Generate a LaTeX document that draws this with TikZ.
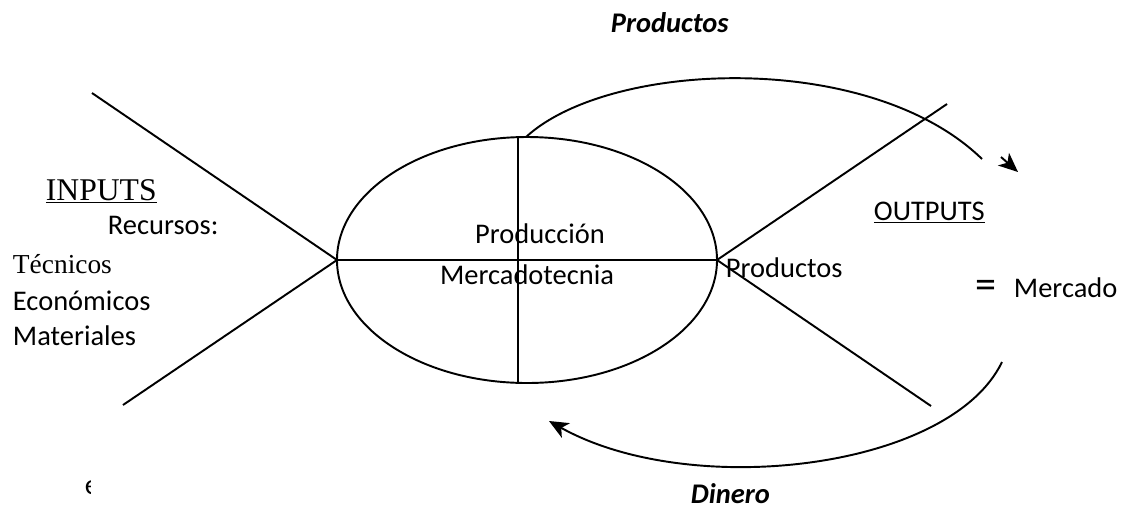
\documentclass[tikz,border=0pt]{standalone}
\usepackage{fontspec}
\setmainfont{Carlito}
\newfontfamily\cambria{Liberation Serif}
\usetikzlibrary{arrows.meta}

\begin{document}
\begin{tikzpicture}[
    x=0.02cm, y=-0.02cm,
    line width=1.1pt,
    txt/.style={inner sep=0pt, anchor=base west, font=\fontsize{16.2}{19}\selectfont},
    serif/.style={inner sep=0pt, anchor=base west, font=\cambria\fontsize{15.6}{18}\selectfont},
    flow/.style={-{Stealth[length=11pt, width=9.5pt, inset=3pt]}}
]
    \useasboundingbox (0,0) rectangle (1123,508);

    % the ellipse with its cross
    \draw (527,260) ellipse [x radius=190, y radius=123];
    \coordinate (L) at (337,260);
    \coordinate (R) at (717,260);
    \coordinate (T) at (518,137);
    \coordinate (B) at (518,383);
    \draw (L) -- (R);
    \draw (T) -- (B);

    % inputs and outputs
    \coordinate (inTop) at (92,93);
    \coordinate (inBot) at (123,405);
    \coordinate (outTop) at (947,104);
    \coordinate (outBot) at (931,406);
    \draw (inTop) -- (L) -- (inBot);
    \draw (outTop) -- (R) -- (outBot);

    % products go out, money comes back
    \coordinate (pStart) at (526,137);
    \coordinate (pEnd) at (982,159);
    \draw (pStart) .. controls (610,60) and (870,50) .. (pEnd);
    \coordinate (tipA) at (1001,157);
    \coordinate (tipB) at (1018,172);
    \draw[flow] (tipA) -- (tipB);
    \coordinate (dStart) at (1002,362);
    \coordinate (dEnd) at (549,421);
    \draw[flow] (dStart) .. controls (950,470) and (690,500) .. (dEnd);

    % labels
    \node[txt, font=\bfseries\itshape\fontsize{16.2}{19}\selectfont] (prodTop) at (610,32) {Productos};
    \node[txt, font=\bfseries\itshape\fontsize{16.2}{19}\selectfont] (dinero) at (690,503) {Dinero};
    \node[serif, font=\cambria\fontsize{18}{21}\selectfont] (inputs) at (45,200) {\underline{INPUTS}};
    \node[txt] (recursos) at (107,234) {Recursos:};
    \node[serif] (tecnicos) at (12,273) {Técnicos};
    \node[txt] (economicos) at (12,310) {Económicos};
    \node[txt] (materiales) at (12,345) {Materiales};
    \node[txt, anchor=base] (produccion) at (540,243) {Producción};
    \node[txt, anchor=base] (mercadotecnia) at (527,284) {Mercadotecnia};
    \node[txt] (prodRight) at (725,277) {Productos};
    \node[txt] (outputs) at (873,220) {\underline{OUTPUTS}};
    \node[txt, font=\fontsize{24}{26}\selectfont] (igual) at (975,298) {=};
    \node[txt] (mercado) at (1013,297) {Mercado};

    \begin{scope}
        \clip (80,470) rectangle (90,505);
        \node[txt] (frag) at (84,494) {e};
    \end{scope}
\end{tikzpicture}
\end{document}
